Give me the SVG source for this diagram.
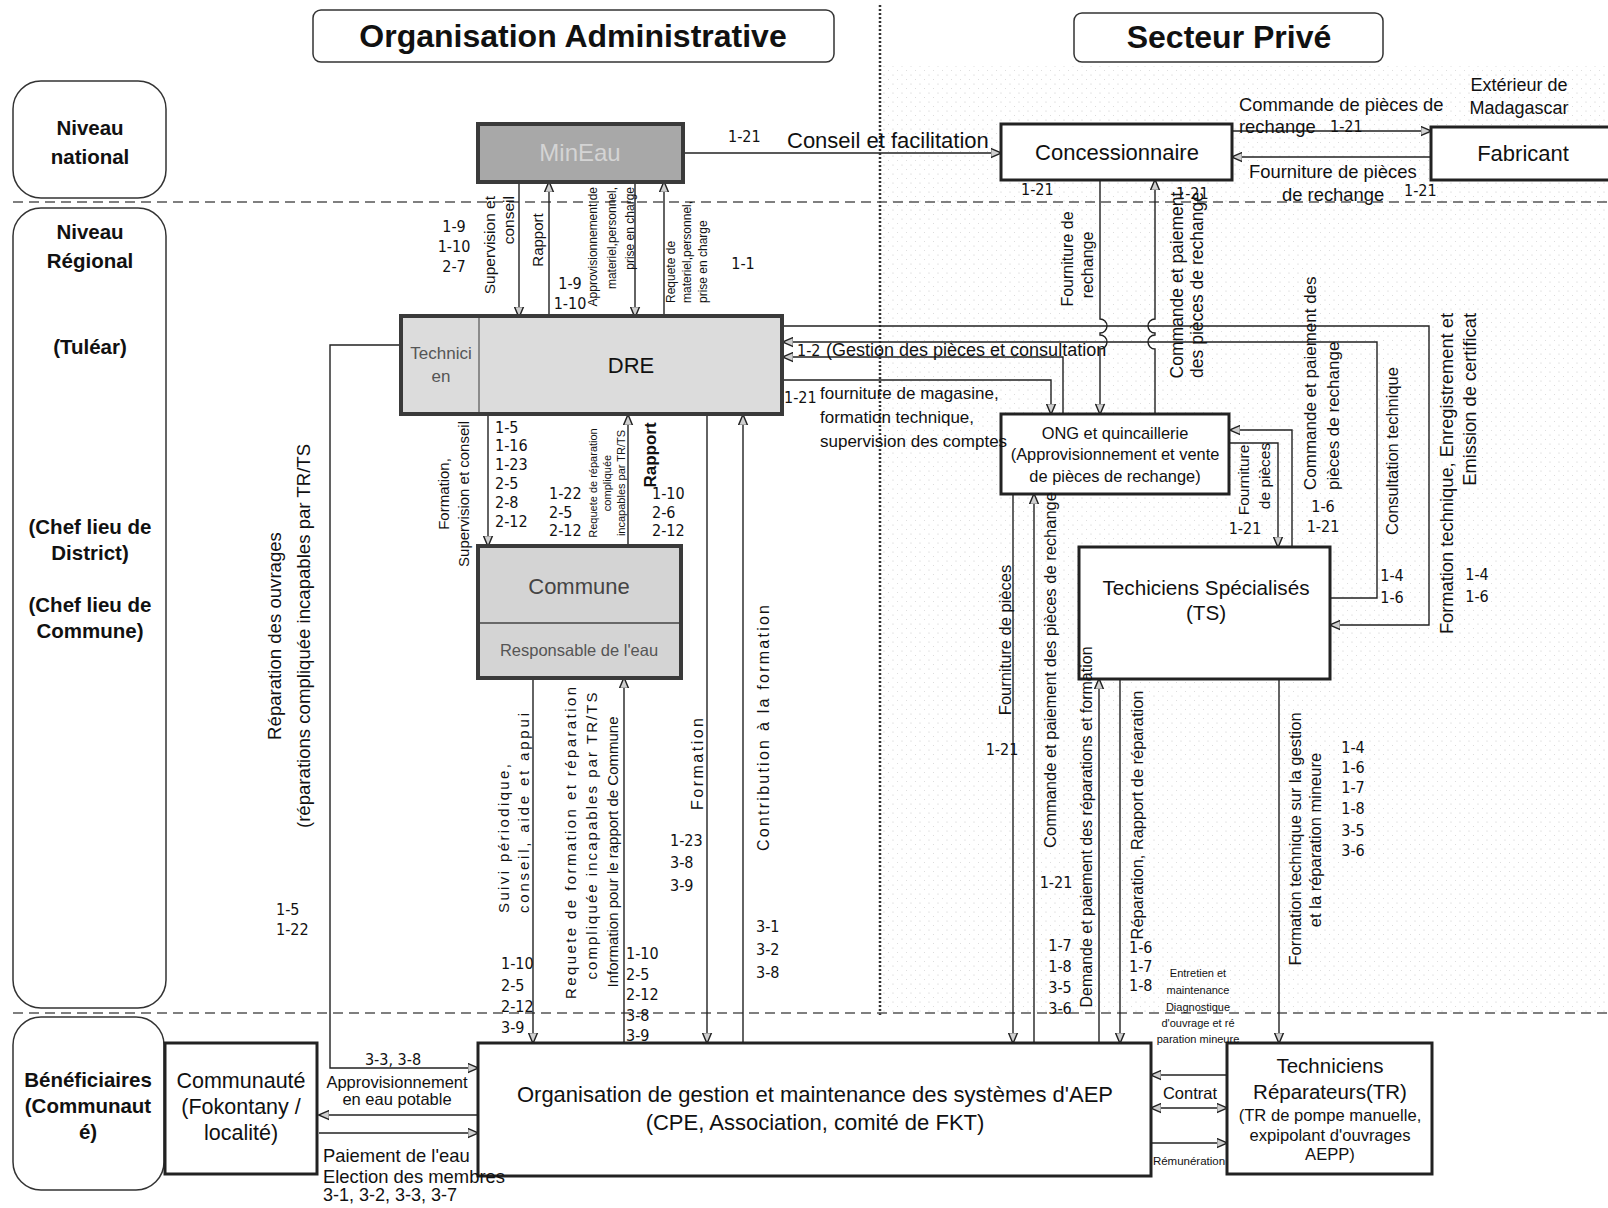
<svg xmlns="http://www.w3.org/2000/svg" width="1608" height="1208" viewBox="0 0 1608 1208">
<defs>
<style>
.t{font-family:'Liberation Sans',Arial,sans-serif;fill:#111;dominant-baseline:central}
.b{font-weight:bold}
.n{font-family:'DejaVu Sans Condensed','Liberation Sans',sans-serif;font-size:16px;fill:#111;dominant-baseline:central}
.m{text-anchor:middle}
.e{text-anchor:end}
.box{fill:#fff;stroke:#222;stroke-width:3}
.gbox{stroke:#3a3a3a;stroke-width:4}
.lvl{fill:#fff;stroke:#333;stroke-width:1.5}
.hdr{fill:#fff;stroke:#333;stroke-width:1.5}
.ln{fill:none;stroke:#222;stroke-width:1.4}
.a{marker-end:url(#ah)}
</style>
<marker id="ah" viewBox="0 0 10 10" refX="9.5" refY="5" markerWidth="11" markerHeight="11" markerUnits="userSpaceOnUse" orient="auto-start-reverse">
<path d="M0,0.8 L10,5 L0,9.2 Z" fill="#cfcfcf" stroke="#222" stroke-width="1.3"/>
</marker>
<pattern id="dots" width="9" height="9" patternUnits="userSpaceOnUse">
<circle cx="2" cy="3" r="0.6" fill="#c4c4c4"/><circle cx="6.5" cy="7.5" r="0.5" fill="#d2d2d2"/>
</pattern>
</defs>
<rect width="1608" height="1208" fill="#fff"/>
<rect x="882" y="66" width="726" height="946" fill="url(#dots)"/>

<!-- headers -->
<g id="hdr-admin"><rect class="hdr" x="313" y="10" width="521" height="52" rx="8"/><text class="t b m" x="573" y="36" font-size="32">Organisation Administrative</text></g>
<g id="hdr-prive"><rect class="hdr" x="1074" y="13" width="309" height="49" rx="8"/><text class="t b m" x="1229" y="37" font-size="32">Secteur Privé</text></g>

<!-- separators -->
<line x1="880" y1="5" x2="880" y2="1015" stroke="#333" stroke-width="2.5" stroke-dasharray="2,2"/>
<line x1="13" y1="202" x2="1608" y2="202" stroke="#555" stroke-width="1.3" stroke-dasharray="10,6"/>
<line x1="13" y1="1013" x2="1608" y2="1013" stroke="#555" stroke-width="1.3" stroke-dasharray="10,6"/>

<!-- level boxes -->
<g id="lvl-national"><rect class="lvl" x="13" y="81" width="153" height="117" rx="28"/>
<text class="t b m" x="90" y="127" font-size="20.5">Niveau</text><text class="t b m" x="90" y="156" font-size="20.5">national</text></g>
<g id="lvl-regional"><rect class="lvl" x="13" y="208" width="153" height="800" rx="28"/>
<text class="t b m" x="90" y="231" font-size="20.5">Niveau</text><text class="t b m" x="90" y="260" font-size="20.5">Régional</text>
<text class="t b m" x="90" y="346" font-size="20.5">(Tuléar)</text>
<text class="t b m" x="90" y="526" font-size="20.5">(Chef lieu de</text><text class="t b m" x="90" y="552" font-size="20.5">District)</text>
<text class="t b m" x="90" y="604" font-size="20.5">(Chef lieu de</text><text class="t b m" x="90" y="630" font-size="20.5">Commune)</text></g>
<g id="lvl-benef"><rect class="lvl" x="13" y="1017" width="151" height="173" rx="28"/>
<text class="t b m" x="88" y="1079" font-size="20.5">Bénéficiaires</text><text class="t b m" x="88" y="1105" font-size="20.5">(Communaut</text><text class="t b m" x="88" y="1131" font-size="20.5">é)</text></g>

<!-- connectors -->
<g id="connectors">
<path class="ln a" d="M683,153 H1001"/>
<path class="ln a" d="M1232,131 H1431"/>
<path class="ln a" d="M1431,157 H1232"/>
<path class="ln a" d="M519,182 V317"/>
<path class="ln a" d="M549,317 V182"/>
<path class="ln a" d="M635,182 V317"/>
<path class="ln a" d="M664,317 V182"/>
<path class="ln a" d="M401,345 H330 V1068 H478"/>
<path class="ln a" d="M488,415 V546"/>
<path class="ln a" d="M628,546 V415"/>
<path class="ln a" d="M533,678 V1043"/>
<path class="ln a" d="M624,1043 V678"/>
<path class="ln a" d="M707,415 V1043"/>
<path class="ln a" d="M743,1043 V415"/>
<path class="ln a" d="M783,326 H1429 V625 H1330"/>
<path class="ln a" d="M1330,598 H1377 V342 H783"/>
<path class="ln a" d="M1063,414 V357 H783"/>
<path class="ln a" d="M783,380 H1051 V414"/>
<path class="ln a" d="M1100,180 V319 a7,7 0 0 1 0,14 V335 a7,7 0 0 1 0,14 V414"/>
<path class="ln a" d="M1155,414 V349 a7,7 0 0 1 0,-14 V333 a7,7 0 0 1 0,-14 V180"/>
<path class="ln a" d="M1292,547 V430 H1230"/>
<path class="ln a" d="M1230,443 H1278 V547"/>
<path class="ln a" d="M1013,494 V1043"/>
<path class="ln a" d="M1034,1043 V494"/>
<path class="ln a" d="M1099,1043 V679"/>
<path class="ln a" d="M1120,679 V1043"/>
<path class="ln a" d="M1279,679 V1043"/>
<path class="ln a" d="M1227,1075 H1151"/>
<path class="ln a" d="M1151,1108 H1227" marker-start="url(#ah)"/>
<path class="ln a" d="M1151,1143 H1227"/>
<path class="ln a" d="M478,1115 H319"/>
<path class="ln a" d="M319,1133 H478"/>
</g>

<!-- nodes -->
<g id="n-mineau"><rect class="gbox" x="478" y="124" width="205" height="58" fill="#a8a8a8"/><text class="t m" x="580" y="152" font-size="24" style="fill:#d4d4d4">MinEau</text></g>
<g id="n-conc"><rect class="box" x="1001" y="124" width="231" height="56"/><text class="t m" x="1117" y="152" font-size="22">Concessionnaire</text></g>
<g id="n-fab"><rect class="box" x="1431" y="127" width="184" height="53"/><text class="t m" x="1523" y="153" font-size="22">Fabricant</text></g>
<g id="n-dre"><rect class="gbox" x="401" y="316" width="381" height="98" fill="#dcdcdc"/><line x1="479" y1="318" x2="479" y2="412" stroke="#555" stroke-width="1.2"/>
<text class="t m" x="441" y="353" font-size="17" style="fill:#555">Technici</text><text class="t m" x="441" y="376" font-size="17" style="fill:#555">en</text>
<text class="t m" x="631" y="365" font-size="22">DRE</text></g>
<g id="n-ong"><rect class="box" x="1001" y="414" width="228" height="80"/>
<text class="t m" x="1115" y="433" font-size="16.4">ONG et quincaillerie</text><text class="t m" x="1115" y="454" font-size="16.4">(Approvisionnement et vente</text><text class="t m" x="1115" y="476" font-size="16.4">de pièces de rechange)</text></g>
<g id="n-commune"><rect class="gbox" x="478" y="546" width="203" height="132" fill="#d4d4d4"/><line x1="480" y1="623" x2="679" y2="623" stroke="#444" stroke-width="1.5"/>
<text class="t m" x="579" y="586" font-size="22" style="fill:#444">Commune</text><text class="t m" x="579" y="650" font-size="16.5" style="fill:#555">Responsable de l'eau</text></g>
<g id="n-ts"><rect class="box" x="1079" y="547" width="251" height="132"/>
<text class="t m" x="1206" y="587" font-size="20.7">Techiciens Spécialisés</text><text class="t m" x="1206" y="612" font-size="20.7">(TS)</text></g>
<g id="n-communaute"><rect class="box" x="165" y="1043" width="152" height="131"/>
<text class="t m" x="241" y="1081" font-size="21.5">Communauté</text><text class="t m" x="241" y="1107" font-size="21.5">(Fokontany /</text><text class="t m" x="241" y="1133" font-size="21.5">localité)</text></g>
<g id="n-org"><rect class="box" x="478" y="1043" width="673" height="133"/>
<text class="t m" x="815" y="1094" font-size="22">Organisation de gestion et maintenance des systèmes d'AEP</text>
<text class="t m" x="815" y="1122" font-size="22">(CPE, Association, comité de FKT)</text></g>
<g id="n-tr"><rect class="box" x="1227" y="1043" width="205" height="131"/>
<text class="t m" x="1330" y="1065" font-size="20.5">Techniciens</text><text class="t m" x="1330" y="1091" font-size="20.5">Réparateurs(TR)</text>
<text class="t m" x="1330" y="1115" font-size="16.6">(TR de pompe manuelle,</text><text class="t m" x="1330" y="1135" font-size="16.6">expipolant d'ouvrages</text><text class="t m" x="1330" y="1154" font-size="16.6">AEPP)</text></g>

<!-- labels -->
<g id="labels">
<text class="n" x="728" y="136">1-21</text>
<text class="t" x="787" y="140" font-size="22">Conseil et facilitation</text>
<text class="t" x="1239" y="104" font-size="18.4">Commande de pièces de</text>
<text class="t" x="1239" y="126" font-size="18.4">rechange</text><text class="n" x="1330" y="126">1-21</text>
<text class="t" x="1249" y="171" font-size="18.4">Fourniture de pièces</text>
<text class="t" x="1282" y="194" font-size="18.4">de rechange</text><text class="n" x="1404" y="190">1-21</text>
<text class="t m" x="1519" y="85" font-size="18">Extérieur de</text><text class="t m" x="1519" y="108" font-size="18">Madagascar</text>
<text class="n" x="1021" y="189">1-21</text><text class="n" x="1176" y="193">1-21</text>

<text class="t e" font-size="15.5" transform="translate(489,196) rotate(-90)">Supervision et</text>
<text class="t e" font-size="15.5" transform="translate(508,196) rotate(-90)">conseil</text>
<text class="n m" x="454" y="226">1-9</text><text class="n m" x="454" y="246">1-10</text><text class="n m" x="454" y="266">2-7</text>
<text class="t m" font-size="15" transform="translate(537,240) rotate(-90)">Rapport</text>
<text class="n m" x="570" y="283">1-9</text><text class="n m" x="570" y="303">1-10</text>
<text class="t e" font-size="12" transform="translate(593,187) rotate(-90)">Approvisionnement de</text>
<text class="t e" font-size="12" transform="translate(612,187) rotate(-90)">materiel,personnel,</text>
<text class="t e" font-size="12" transform="translate(630,187) rotate(-90)">prise en charge</text>
<text class="t" font-size="12" transform="translate(671,303) rotate(-90)">Requete de</text>
<text class="t" font-size="12" transform="translate(687,303) rotate(-90)">materiel,personnel,</text>
<text class="t" font-size="12" transform="translate(703,303) rotate(-90)">prise en charge</text>
<text class="n m" x="743" y="263">1-1</text>

<text class="t m" font-size="15" transform="translate(443,494) rotate(-90)">Formation,</text>
<text class="t m" font-size="15" transform="translate(463,494) rotate(-90)">Supervision et conseil</text>
<text class="n" x="495" y="427">1-5</text><text class="n" x="495" y="445">1-16</text><text class="n" x="495" y="464">1-23</text>
<text class="n" x="495" y="483">2-5</text><text class="n" x="495" y="502">2-8</text><text class="n" x="495" y="521">2-12</text>
<text class="n" x="549" y="493">1-22</text><text class="n" x="549" y="512">2-5</text><text class="n" x="549" y="530">2-12</text>
<text class="t m" font-size="11" transform="translate(593,483) rotate(-90)">Requete de réparation</text>
<text class="t m" font-size="11" transform="translate(607,483) rotate(-90)">compliquée</text>
<text class="t m" font-size="11" transform="translate(621,483) rotate(-90)">incapables par  TR/TS</text>
<text class="t m b" font-size="17" transform="translate(650,455) rotate(-90)">Rapport</text>
<text class="n" x="652" y="493">1-10</text><text class="n" x="652" y="512">2-6</text><text class="n" x="652" y="530">2-12</text>

<text class="t m" font-size="18.6" transform="translate(274,636) rotate(-90)">Réparation  des ouvrages</text>
<text class="t m" font-size="18.6" transform="translate(303,636) rotate(-90)">(réparations compliquée incapables par   TR/TS</text>
<text class="n" x="276" y="909">1-5</text><text class="n" x="276" y="929">1-22</text>
<text class="n m" x="393" y="1059">3-3, 3-8</text>
<text class="t m" font-size="16.5" x="397" y="1082">Approvisionnement</text>
<text class="t m" font-size="16.5" x="397" y="1099">en eau potable</text>
<text class="t" font-size="18.4" x="323" y="1155">Paiement de l'eau</text>
<text class="t" font-size="18.4" x="323" y="1176">Election des membres</text>
<text class="t" font-size="18" x="323" y="1195">3-1, 3-2, 3-3, 3-7</text>

<text class="t" font-size="15" textLength="149" lengthAdjust="spacing" transform="translate(503,913) rotate(-90)">Suivi périodique,</text>
<text class="t" font-size="15" textLength="200" lengthAdjust="spacing" transform="translate(523,913) rotate(-90)">conseil,  aide et appui</text>
<text class="n" x="501" y="963">1-10</text><text class="n" x="501" y="985">2-5</text><text class="n" x="501" y="1006">2-12</text><text class="n" x="501" y="1027">3-9</text>
<text class="t m" font-size="15" textLength="312" lengthAdjust="spacing" transform="translate(570,843) rotate(-90)">Requete de formation et réparation</text>
<text class="t m" font-size="15" textLength="287" lengthAdjust="spacing" transform="translate(591,836) rotate(-90)">compliquée incapables par   TR/TS</text>
<text class="t m" font-size="15" transform="translate(612,852) rotate(-90)">Information pour le rapport de Commune</text>
<text class="n" x="626" y="953">1-10</text><text class="n" x="626" y="974">2-5</text><text class="n" x="626" y="994">2-12</text><text class="n" x="626" y="1015">3-8</text><text class="n" x="626" y="1035">3-9</text>
<text class="t m" font-size="16" textLength="92" lengthAdjust="spacing" transform="translate(697,764) rotate(-90)">Formation</text>
<text class="n" x="670" y="840">1-23</text><text class="n" x="670" y="862">3-8</text><text class="n" x="670" y="885">3-9</text>
<text class="t m" font-size="16" textLength="246" lengthAdjust="spacing" transform="translate(763,728) rotate(-90)">Contribution à la formation</text>
<text class="n" x="756" y="926">3-1</text><text class="n" x="756" y="949">3-2</text><text class="n" x="756" y="972">3-8</text>

<text class="n" x="797" y="350">1-2</text>
<text class="t" font-size="18" x="826" y="350">(Gestion des pièces et consultation</text>
<text class="n" x="784" y="397">1-21</text>
<text class="t" font-size="17" x="820" y="393">fourniture de magasine,</text>
<text class="t" font-size="17" x="820" y="417">formation technique,</text>
<text class="t" font-size="17" x="820" y="441">supervision des comptes</text>

<text class="t m" font-size="16" transform="translate(1067,259) rotate(-90)">Fourniture de</text>
<text class="t m" font-size="16" transform="translate(1087,265) rotate(-90)">rechange</text>
<text class="t m" font-size="17.5" transform="translate(1177,285) rotate(-90)">Commande et paiement</text>
<text class="t m" font-size="17.5" transform="translate(1197,285) rotate(-90)">des pièces de rechange</text>

<text class="t m" font-size="15.5" transform="translate(1243,480) rotate(-90)">Fourniture</text>
<text class="t m" font-size="15.5" transform="translate(1264,476) rotate(-90)">de pièces</text>
<text class="n m" x="1245" y="528">1-21</text>
<text class="t" font-size="17" transform="translate(1310,490) rotate(-90)">Commande et paiement des</text>
<text class="t" font-size="17" transform="translate(1333,490) rotate(-90)">pièces de rechange</text>
<text class="n m" x="1323" y="506">1-6</text><text class="n m" x="1323" y="526">1-21</text>
<text class="t m" font-size="16.5" transform="translate(1392,451) rotate(-90)">Consultation technique</text>
<text class="n m" x="1392" y="575">1-4</text><text class="n m" x="1392" y="597">1-6</text>
<text class="t e" font-size="18.3" transform="translate(1446,313) rotate(-90)">Formation technique,  Enregistrement et</text>
<text class="t e" font-size="18.3" transform="translate(1469,313) rotate(-90)">Emission de certificat</text>
<text class="n m" x="1477" y="574">1-4</text><text class="n m" x="1477" y="596">1-6</text>

<text class="t m" font-size="16.5" transform="translate(1005,640) rotate(-90)">Fourniture de pièces</text>
<text class="n m" x="1002" y="749">1-21</text>
<text class="t m" font-size="16.5" transform="translate(1050,670) rotate(-90)">Commande et paiement des pièces de rechange</text>
<text class="n m" x="1056" y="882">1-21</text>
<text class="t m" font-size="16" transform="translate(1086,827) rotate(-90)">Demande et paiement des réparations et formation</text>
<text class="n m" x="1060" y="945">1-7</text><text class="n m" x="1060" y="966">1-8</text><text class="n m" x="1060" y="987">3-5</text><text class="n m" x="1060" y="1008">3-6</text>
<text class="t m" font-size="16.4" transform="translate(1137,815) rotate(-90)">Réparation, Rapport de réparation</text>
<text class="n" x="1129" y="947">1-6</text><text class="n" x="1129" y="966">1-7</text><text class="n" x="1129" y="985">1-8</text>
<text class="t m" font-size="11" x="1198" y="973">Entretien et</text>
<text class="t m" font-size="11" x="1198" y="990">maintenance</text>
<text class="t m" font-size="11" x="1198" y="1007">Diagnostique</text>
<text class="t m" font-size="11" x="1198" y="1023">d'ouvrage et ré</text>
<text class="t m" font-size="11" x="1198" y="1039">paration mineure</text>
<text class="t m" font-size="16.5" transform="translate(1295,839) rotate(-90)">Formation technique sur la gestion</text>
<text class="t m" font-size="16.5" transform="translate(1315,840) rotate(-90)">et la réparation mineure</text>
<text class="n m" x="1353" y="747">1-4</text><text class="n m" x="1353" y="767">1-6</text><text class="n m" x="1353" y="787">1-7</text>
<text class="n m" x="1353" y="808">1-8</text><text class="n m" x="1353" y="830">3-5</text><text class="n m" x="1353" y="850">3-6</text>
<text class="t m" font-size="16.5" x="1190" y="1093">Contrat</text>
<text class="t m" font-size="11.5" x="1189" y="1161">Rémunération</text>
</g>
</svg>
